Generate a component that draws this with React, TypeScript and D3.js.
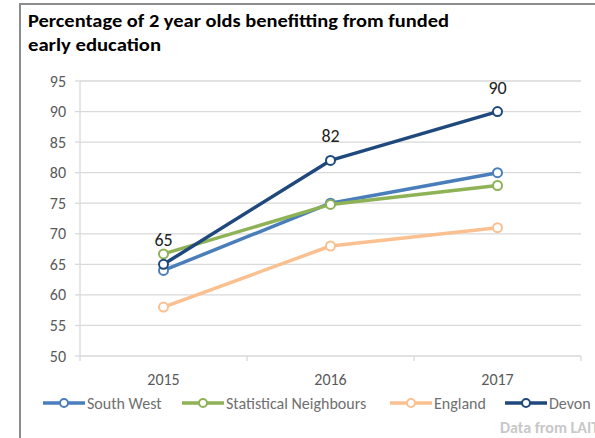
import React from "react";
import * as d3 from "d3";

const years = ["2015", "2016", "2017"];
const southWest = [64, 75, 80];
const statNeighbours = [66.7, 74.8, 77.9];
const england = [58, 68, 71];
const devon = [65, 82, 90];
const yTicks = [50, 55, 60, 65, 70, 75, 80, 85, 90, 95];
const seriesNames = ["South West", "Statistical Neighbours", "England", "Devon"];
const seriesColors = ["#4A7EBB", "#8EB256", "#FAC090", "#1F497D"];
const titleLines = ["Percentage of 2 year olds benefitting from funded", "early education"];

export default function App() {
  const W = 595, H = 438;
  const font = "Carlito, 'Liberation Sans', Arial, sans-serif";
  const x = d3.scaleBand<string>().domain(years).range([80, 581]);
  const y = d3.scaleLinear().domain([50, 95]).range([356, 81]);
  const data = [southWest, statNeighbours, england, devon];
  const line = d3
    .line<number>()
    .x((_, i) => (x(years[i]) as number) + x.bandwidth() / 2)
    .y((d) => y(d));
  const legendX = [43, 182, 390, 505];

  return (
    <svg width={W} height={H} style={{ position: "absolute", left: 0, top: 0 }}>
      <rect x={0} y={0} width={W} height={H} fill="#fff" />
      <line x1={20} y1={4} x2={20} y2={H} stroke="#8c8c8c" strokeWidth={2} />
      <line x1={19} y1={4} x2={W} y2={4} stroke="#8c8c8c" strokeWidth={2} />
      {titleLines.map((t, i) => (
        <text
          key={i}
          x={28}
          y={27 + i * 24}
          fontFamily={font}
          fontWeight="bold"
          fontSize={17}
          fill="#000"
          textLength={i === 0 ? 421 : 133}
          lengthAdjust="spacingAndGlyphs"
        >
          {t}
        </text>
      ))}
      {yTicks.map((t) => (
        <g key={t}>
          {t > 50 && <line x1={80} x2={581} y1={y(t)} y2={y(t)} stroke="#d9d9d9" strokeWidth={1.3} />}
          <line x1={75} x2={80} y1={y(t)} y2={y(t)} stroke="#d9d9d9" strokeWidth={1.3} />
          <text x={66} y={y(t) + 5.5} textAnchor="end" fontFamily={font} fontSize={16} fill="#595959">
            {t}
          </text>
        </g>
      ))}
      <line x1={80} x2={80} y1={y(95)} y2={y(50) + 5} stroke="#d9d9d9" strokeWidth={1.3} />
      <line x1={80} x2={581} y1={y(50)} y2={y(50)} stroke="#d9d9d9" strokeWidth={1.3} />
      {years.map((yr, i) => (
        <g key={yr}>
          <line x1={80 + (i + 1) * x.bandwidth()} x2={80 + (i + 1) * x.bandwidth()} y1={y(50)} y2={y(50) + 5} stroke="#d9d9d9" strokeWidth={1.3} />
          <text
            x={(x(yr) as number) + x.bandwidth() / 2}
            y={385}
            textAnchor="middle"
            fontFamily={font}
            fontSize={16}
            fill="#595959"
          >
            {yr}
          </text>
        </g>
      ))}
      {data.map((s, si) => (
        <g key={si}>
          <path d={line(s) as string} fill="none" stroke={seriesColors[si]} strokeWidth={3.5} strokeLinejoin="round" />
          {s.map((v, i) => (
            <circle
              key={i}
              cx={(x(years[i]) as number) + x.bandwidth() / 2}
              cy={y(v)}
              r={4.5}
              fill="#fff"
              stroke={seriesColors[si]}
              strokeWidth={2}
            />
          ))}
        </g>
      ))}
      {devon.map((v, i) => (
        <text
          key={i}
          x={(x(years[i]) as number) + x.bandwidth() / 2}
          y={y(v) - 18}
          textAnchor="middle"
          fontFamily={font}
          fontSize={18}
          fill="#222"
        >
          {v}
        </text>
      ))}
      {seriesNames.map((n, i) => (
        <g key={n}>
          <line x1={legendX[i]} x2={legendX[i] + 42} y1={403} y2={403} stroke={seriesColors[i]} strokeWidth={3.5} />
          <circle cx={legendX[i] + 21} cy={403} r={4} fill="#fff" stroke={seriesColors[i]} strokeWidth={2} />
          <text x={legendX[i] + 44} y={408.5} fontFamily={font} fontSize={16} fill="#6f6f6f">
            {n}
          </text>
        </g>
      ))}
      <text x={500} y={433} fontFamily={font} fontSize={16} fontWeight="bold" fill="#c8c8c8">
        Data from LAIT
      </text>
    </svg>
  );
}
